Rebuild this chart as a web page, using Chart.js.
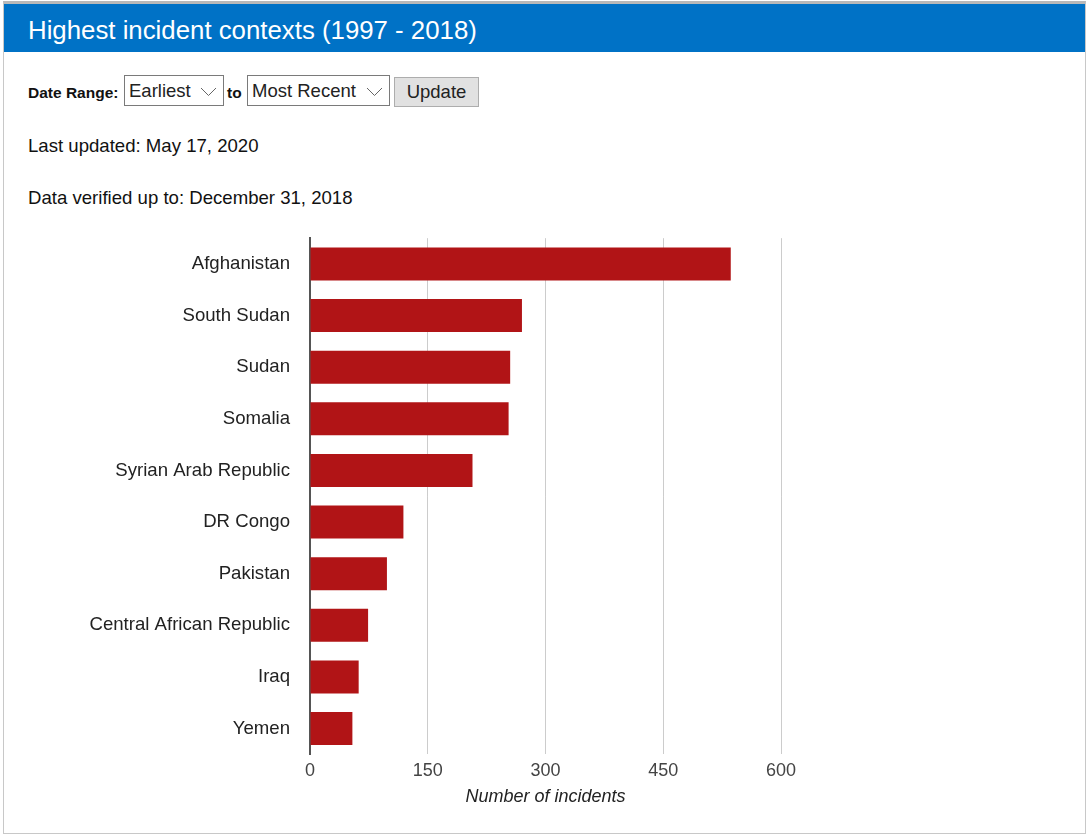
<!DOCTYPE html>
<html>
<head>
<meta charset="utf-8">
<script src="https://cdn.jsdelivr.net/npm/chart.js@4/dist/chart.umd.min.js"></script>
<style>
  body { margin: 0; background: #fff; font-family: "Liberation Sans", Arial, sans-serif; }
  .panel { position: absolute; left: 3px; top: 1px; width: 1081px; height: 829px;
           border: 1px solid #c8c8c8; border-top: 3px solid #b9b9b9; background: #fff; }
  .header { position: absolute; left: 0; top: 0; right: 0; height: 48px; background: #0072c6;
            color: #fff; font-size: 25.8px; line-height: 52px; padding-left: 24px; }
  .abs { position: absolute; white-space: nowrap; }
  .lbl { font-weight: bold; font-size: 15.5px; color: #111; top: 80px; }
  .sel { display: flex; align-items: center; top: 71px; height: 31px; border: 1px solid #7a7a7a;
         font-size: 18.5px; padding-left: 4px; color: #222; background: #fff; box-sizing: border-box; }
  .sel svg { position: absolute; right: 6px; top: 11px; }
  .btn { display: flex; align-items: center; justify-content: center; top: 73px; height: 30px; width: 85px;
         border: 1px solid #adadad; background: #e1e1e1; font-size: 18.5px; color: #222; box-sizing: border-box; }
  .meta { font-size: 18.6px; color: #111; }
  #wrap { position: absolute; left: 0; top: 203px; width: 830px; height: 599px; }
</style>
</head>
<body>
<div class="panel">
  <div class="header">Highest incident contexts (1997 - 2018)</div>
  <span class="abs lbl" style="left:24px">Date Range:</span>
  <span class="abs sel" style="left:120px;width:100px">Earliest<svg width="17" height="10"><path d="M1 1 L8.5 8.5 L16 1" fill="none" stroke="#666" stroke-width="1"/></svg></span>
  <span class="abs lbl" style="left:223px">to</span>
  <span class="abs sel" style="left:243px;width:143px">Most Recent<svg width="17" height="10"><path d="M1 1 L8.5 8.5 L16 1" fill="none" stroke="#666" stroke-width="1"/></svg></span>
  <span class="abs btn" style="left:390px">Update</span>
  <span class="abs meta" style="left:24px;top:131px">Last updated: May 17, 2020</span>
  <span class="abs meta" style="left:24px;top:183px">Data verified up to: December 31, 2018</span>
  <div id="wrap"><canvas id="incident-chart"></canvas></div>
</div>
<script>
const countries = ['Afghanistan', 'South Sudan', 'Sudan', 'Somalia', 'Syrian Arab Republic',
  'DR Congo', 'Pakistan', 'Central African Republic', 'Iraq', 'Yemen']
const incidents = [536, 270, 255, 253, 207, 119, 98, 74, 62, 54]
const xTicks = [0, 150, 300, 450, 600]

const ctx = document.getElementById('incident-chart')

new Chart(ctx, {
    type: 'bar',
    data: {
        labels: countries,
        datasets: [{
            data: incidents,
            backgroundColor: '#b11416',
            barPercentage: 0.64,
            categoryPercentage: 1
        }]
    },
    options: {
        indexAxis: 'y',
        responsive: true,
        maintainAspectRatio: false,
        animation: false,
        layout: { padding: { top: 0, right: 53, left: 0, bottom: 0 } },
        plugins: { legend: { display: false }, tooltip: { enabled: false } },
        scales: {
            x: {
                min: xTicks[0],
                max: xTicks[xTicks.length - 1],
                afterBuildTicks: scale => { scale.ticks = xTicks.map(v => ({ value: v })) },
                grid: { color: '#cccccc', drawTicks: false },
                border: { display: false },
                ticks: { padding: 6, color: '#444', font: { family: 'Liberation Sans', size: 18 } },
                title: {
                    display: true,
                    text: 'Number of incidents',
                    color: '#222',
                    padding: { top: 0, bottom: 0 },
                    font: { family: 'Liberation Sans', size: 18, style: 'italic', lineHeight: 1 }
                }
            },
            y: {
                afterFit: scale => { scale.width = 306 },
                grid: { display: false, drawTicks: false },
                border: { color: '#555', width: 2 },
                ticks: { padding: 20, color: '#222', font: { family: 'Liberation Sans', size: 18.6 } }
            }
        }
    }
})
</script>
</body>
</html>
